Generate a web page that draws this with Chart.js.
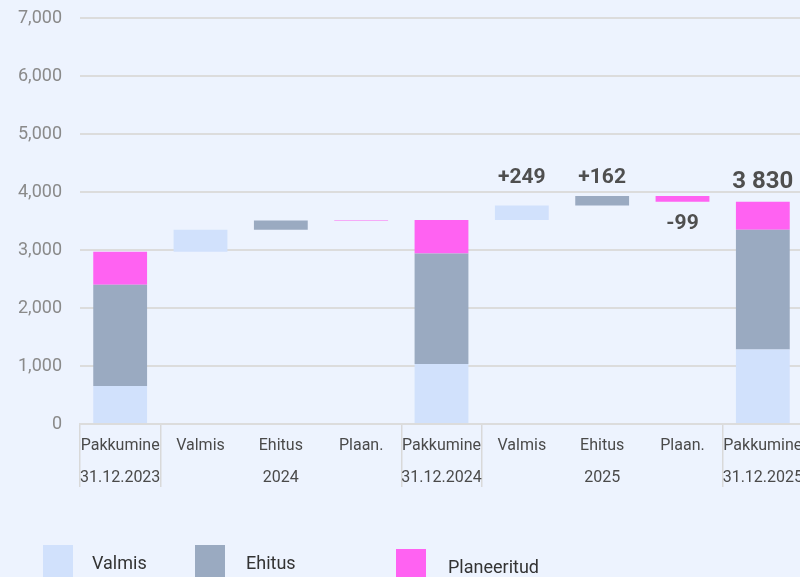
<!DOCTYPE html>
<html><head><meta charset="utf-8">
<script src="https://cdn.jsdelivr.net/npm/chart.js@4.4.1/dist/chart.umd.min.js"></script>
<style>
html,body{margin:0;padding:0;width:800px;height:577px;overflow:hidden;background:#edf3fe;font-family:Roboto,sans-serif;}
#wrap{position:absolute;left:0;top:0;width:803px;height:494px;}
#legend{position:absolute;left:0;top:0;width:800px;height:577px;pointer-events:none;}
.box{position:absolute;width:30px;height:34px;}
.lbl{position:absolute;font-size:18px;color:#333;line-height:20px;white-space:nowrap;}
</style></head>
<body>
<div id="wrap"><canvas id="c"></canvas></div>
<div id="legend"></div>
<script>
// ---- data ----
const categoryNames = ['Pakkumine','Valmis','Ehitus','Plaan.','Pakkumine','Valmis','Ehitus','Plaan.','Pakkumine'];
const periodLabels  = ['31.12.2023','','2024','','31.12.2024','','2025','','31.12.2025'];
const seriesNames   = ['Valmis','Ehitus','Planeeritud'];
const opening2023   = [655, 1747, 569];
const change2024    = [380, 156, 11];
const change2025    = [249, 162, -99];
const yMin = 0, yMax = 7000, yStep = 1000;

// ---- styles ----
const colors = ['#d1e1fc','#9aaac1','#ff62f2'];

// ---- build waterfall ----
const n = categoryNames.length;
const data = seriesNames.map(() => Array(n).fill(null));
function addTotal(idx, parts){ let c = 0; parts.forEach((v,s)=>{ data[s][idx] = [c, c+v]; c += v; }); return c; }
function addChanges(idx0, start, changes){ let c = start; changes.forEach((v,s)=>{ data[s][idx0+s] = [c, c+v]; c += v; }); return c; }
let parts = opening2023.slice();
const t0 = addTotal(0, parts);
addChanges(1, t0, change2024);
parts = parts.map((v,i)=>v+change2024[i]);
const t1 = addTotal(4, parts);
addChanges(5, t1, change2025);
parts = parts.map((v,i)=>v+change2025[i]);
const t2 = addTotal(8, parts);

const fmtSpace = v => String(v).replace(/\B(?=(\d{3})+(?!\d))/g, ' ');
const valueLabels = change2025.map((v,s)=>({ds:s, idx:5+s, text:(v>0?'+':'')+v, size:21, neg:v<0}));
valueLabels.push({ds:2, idx:8, text:fmtSpace(t2), size:24, total:true});

const labels = categoryNames.map((c,i)=> periodLabels[i] ? [c, periodLabels[i]] : [c]);
const boundaries = [0,1,4,5,8,9];

const labelPlugin = {
  id:'valueLabels',
  afterDatasetsDraw(chart){
    const ctx = chart.ctx;
    ctx.save();
    ctx.fillStyle = '#4f4f4f';
    ctx.textAlign = 'center';
    ctx.textBaseline = 'middle';
    const posTops = valueLabels.filter(l=>!l.neg && !l.total).map(l=>{
      const b = chart.getDatasetMeta(l.ds).data[l.idx]; return Math.min(b.y, b.base);
    });
    const groupTop = Math.min(...posTops);
    valueLabels.forEach(l=>{
      const b = chart.getDatasetMeta(l.ds).data[l.idx];
      let y;
      if (l.total) y = Math.min(b.y, b.base) - 20;
      else if (l.neg) y = Math.max(b.y, b.base) + 22;
      else y = groupTop - 18;
      ctx.font = `bold ${l.size}px Roboto`;
      ctx.fillText(l.text, b.x, y);
    });
    ctx.restore();
  }
};

new Chart(document.getElementById('c'), {
  type:'bar',
  data:{
    labels,
    datasets: seriesNames.map((name,s)=>({
      label:name, data:data[s], backgroundColor:colors[s],
      borderWidth:0, categoryPercentage:1, barPercentage:0.67
    }))
  },
  options:{
    responsive:true, maintainAspectRatio:false, animation:false,
    layout:{padding:{top:18,left:0,right:0,bottom:0}},
    plugins:{legend:{display:false}, tooltip:{enabled:false}},
    scales:{
      x:{
        stacked:true, offset:true,
        grid:{offset:true, drawOnChartArea:false, drawTicks:true, tickLength:63, lineWidth:1.5,
          color: c => boundaries.includes(c.index) ? '#d9d9d9' : 'rgba(0,0,0,0)'},
        border:{display:true, color:'#dcdcdc', width:2},
        ticks:{autoSkip:false, maxRotation:0, minRotation:0, padding:-57, color:'#4a4a4a',
          font:{family:'Roboto', size:16, lineHeight:2}},
        afterFit(s){ s.height = 70; s.paddingLeft = 0; s.paddingRight = 0; }
      },
      y:{
        min:yMin, max:yMax,
        grid:{color:'#dcdcdc', lineWidth:2, drawTicks:false},
        border:{display:false},
        ticks:{stepSize:yStep, padding:18, color:'#8a8a8a', font:{family:'Roboto', size:18},
          callback:v=>v.toLocaleString('en-US')},
        afterFit(s){ s.width = 80; s.paddingTop = 0; s.paddingBottom = 0; }
      }
    }
  },
  plugins:[labelPlugin]
});

// ---- HTML legend ----
const legendPos = [{box:43, text:92, top:545}, {box:195, text:246, top:545}, {box:396, text:448, top:549}];
const lg = document.getElementById('legend');
seriesNames.forEach((name,s)=>{
  const p = legendPos[s];
  const b = document.createElement('div'); b.className='box';
  b.style.left = p.box+'px'; b.style.top = p.top+'px'; b.style.background = colors[s];
  const t = document.createElement('div'); t.className='lbl';
  t.style.left = p.text+'px'; t.style.top = (p.top+8)+'px'; t.textContent = name;
  lg.appendChild(b); lg.appendChild(t);
});
</script>
</body></html>
